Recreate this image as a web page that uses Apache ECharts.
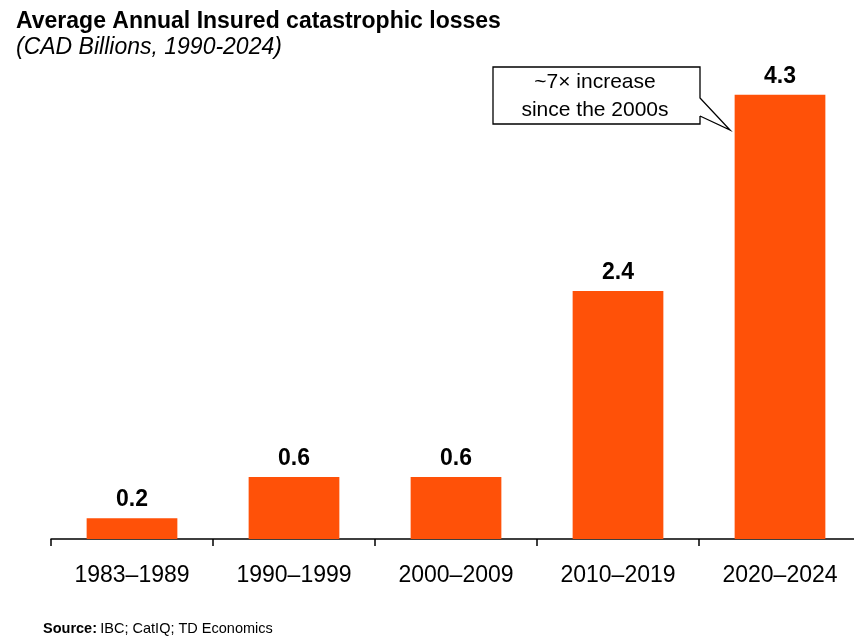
<!DOCTYPE html>
<html><head><meta charset="utf-8">
<script src="https://cdn.jsdelivr.net/npm/echarts@6/dist/echarts.min.js"></script>
<style>html,body{margin:0;padding:0;background:#fff;overflow:hidden;width:854px;height:637px}#c{width:862px;height:637px}</style>
</head><body><div id="c"></div>
<script>
const categories = ['1983–1989','1990–1999','2000–2009','2010–2019','2020–2024'];
const values = [0.2, 0.6, 0.6, 2.4, 4.3];
const chart = echarts.init(document.getElementById('c'));
const FONT = 'Liberation Sans, Arial, sans-serif';
chart.setOption({
  animation: false,
  backgroundColor: '#fff',
  grid: {left: 51, right: 1, top: 74, bottom: 98, containLabel: false},
  title: [
    {text: 'Average Annual Insured catastrophic losses', left: 11, top: 5,
     textStyle: {fontFamily: FONT, fontSize: 23, fontWeight: 'bold', color: '#000'}},
    {text: '(CAD Billions, 1990-2024)', left: 11, top: 31,
     textStyle: {fontFamily: FONT, fontSize: 23, fontStyle: 'italic', fontWeight: 'normal', color: '#000'}}
  ],
  xAxis: {
    type: 'category', data: categories,
    axisLine: {lineStyle: {color: '#000', width: 1.5}},
    axisTick: {show: true, length: 7, lineStyle: {color: '#000', width: 1.5}},
    axisLabel: {fontFamily: FONT, fontSize: 23, color: '#000', margin: 25}
  },
  yAxis: {type: 'value', min: 0, max: 4.5, show: false, splitLine: {show: false}},
  series: [{
    type: 'bar', data: values, barWidth: '56%',
    itemStyle: {color: '#FF5108'},
    label: {show: true, position: 'top', distance: 7, fontFamily: FONT, fontSize: 23,
            fontWeight: 'bold', color: '#000', formatter: p => p.value.toFixed(1)}
  }],
  graphic: [
    {type: 'polyline', shape: {points: [[700,116],[700,124],[493,124],[493,67],[700,67],[700,98],[730,130],[700,116]]},
     style: {stroke: '#000', lineWidth: 1.3, fill: '#fff'}},
    {type: 'text', style: {text: '~7× increase', x: 595, y: 82, align: 'center', verticalAlign: 'middle',
     font: '21px Liberation Sans, Arial, sans-serif', fill: '#000'}},
    {type: 'text', style: {text: 'since the 2000s', x: 595, y: 110, align: 'center', verticalAlign: 'middle',
     font: '21px Liberation Sans, Arial, sans-serif', fill: '#000'}},
    {type: 'text', style: {x: 43, y: 629, verticalAlign: 'middle',
     rich: {b: {fontWeight: 'bold', fontSize: 14.5, fontFamily: FONT, fill: '#000'}, n: {fontSize: 14.5, fontFamily: FONT, fill: '#000'}},
     text: '{b|Source:} {n|IBC; CatIQ; TD Economics}'}}
  ]
});
</script></body></html>
